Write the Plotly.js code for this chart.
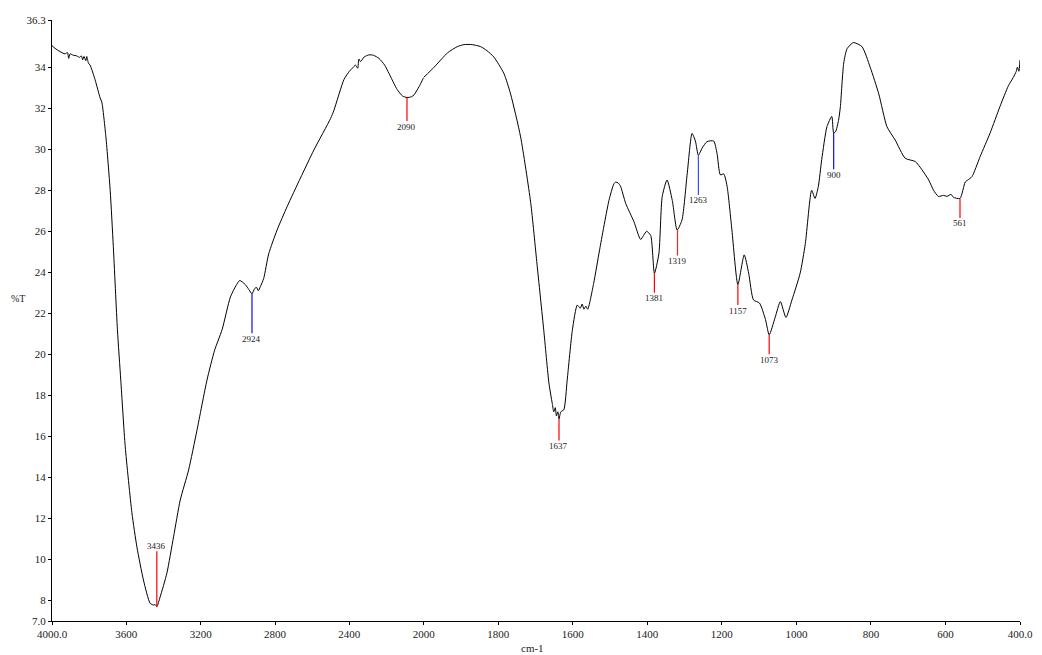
<!DOCTYPE html>
<html>
<head>
<meta charset="utf-8">
<script src="https://cdn.plot.ly/plotly-3.0.1.min.js"></script>
<style>html,body{margin:0;padding:0;background:#fff;}#chart{width:1042px;height:655px;}</style>
</head>
<body>
<div id="chart"></div>
<script>
// Spectrum (wavenumber, cm-1) and transmittance (%T)
const wavenumber = [4000,3984,3957,3930,3917,3910,3903,3885,3867,3853,3842,3835,3828,3818,3813,3804,3795,3768,3741,3732,3710,3687,3670,3648,3630,3606,3570,3543,3508,3472,3454,3445,3436,3418,3382,3346,3310,3265,3220,3166,3125,3085,3040,3010,2990,2960,2940,2924,2910,2900,2890,2879,2861,2834,2789,2735,2663,2591,2501,2483,2429,2400,2384,2367,2355,2349,2340,2320,2295,2270,2241,2210,2187,2160,2142,2115,2090,2065,2052,2025,2000,1972,1936,1910,1892,1870,1847,1830,1812,1785,1767,1740,1713,1696,1678,1664,1655,1651,1647,1644,1640,1637,1632,1624,1615,1601,1588,1580,1575,1570,1565,1560,1544,1528,1503,1490,1485,1478,1472,1458,1436,1418,1410,1402,1391,1381,1369,1360,1347,1333,1320,1307,1293,1280,1271,1263,1253,1240,1222,1213,1204,1195,1186,1173,1157,1140,1128,1115,1099,1083,1073,1057,1043,1028,1012,990,976,959,950,941,932,918,905,900,895,887,882,873,864,847,824,802,779,757,735,708,681,663,645,632,619,605,596,585,579,561,547,540,529,507,480,454,431,418,410,407,403,400];
const transmittance = [35.05,34.92,34.76,34.65,34.71,34.43,34.65,34.58,34.55,34.48,34.55,34.36,34.52,34.32,34.52,34.2,34.1,33.38,32.5,32.3,30.6,28.0,25.25,21.2,18.75,15.5,12.27,10.6,9.0,7.86,7.78,7.8,7.7,8.18,9.33,11.1,12.9,14.36,16.3,18.75,20.2,21.2,22.8,23.35,23.6,23.4,23.15,22.95,23.2,23.27,23.1,23.3,23.7,24.9,26.06,27.2,28.6,29.96,31.5,31.9,33.4,33.8,33.95,34.1,33.95,34.4,34.27,34.5,34.6,34.58,34.43,34.1,33.7,33.2,32.9,32.6,32.52,32.56,32.65,33.05,33.5,34.0,34.7,35.0,35.1,35.1,35.0,34.8,34.5,33.7,32.7,30.6,27.4,24.4,21.2,18.6,17.6,17.2,17.4,17.0,17.2,16.85,17.2,17.3,18.75,21.2,22.4,22.25,22.45,22.2,22.35,22.2,23.46,25.1,27.5,28.3,28.4,28.35,28.2,27.36,26.47,25.6,25.8,26.0,25.8,23.95,24.9,27.7,28.5,27.5,26.06,26.55,28.8,30.77,30.4,29.7,30.05,30.37,30.4,29.8,28.75,28.8,28.2,26.06,23.4,24.85,23.95,22.65,22.5,21.7,20.95,21.8,22.57,21.8,22.65,23.95,25.4,28.0,27.6,28.2,29.5,31.1,31.6,30.8,30.85,31.4,32.07,34.2,34.9,35.2,35.0,34.0,32.7,31.1,30.45,29.56,29.4,29.0,28.5,28.0,27.7,27.75,27.7,27.8,27.66,27.6,28.4,28.5,28.66,29.64,30.8,32.07,33.1,33.5,33.8,34.0,33.8,34.35];

// Picked peaks
const peakWavenumber = [3436,2924,2090,1637,1381,1319,1263,1157,1073,900,561];
const peakT = [7.7,22.95,32.52,16.85,23.95,26.06,29.7,23.4,20.95,30.8,27.6];
const peakLabels = ['3436','2924','2090','1637','1381','1319','1263','1157','1073','900','561'];

// Axis ticks
const xTicksHigh = [4000,3600,3200,2800,2400,2000];
const xTickTextHigh = ['4000.0','3600','3200','2800','2400','2000'];
const xTicksLow = [1800,1600,1400,1200,1000,800,600,400];
const xTickTextLow = ['1800','1600','1400','1200','1000','800','600','400.0'];
const yTicks = [7,8,10,12,14,16,18,20,22,24,26,28,30,32,34,36.3];
const yTickText = ['7.0','8','10','12','14','16','18','20','22','24','26','28','30','32','34','36.3'];

// Styles for peak markers (pixel offsets and colours)
const peakMarkerStyle = {
  '3436': {len: -55, color: '#ff0000'},
  '2924': {len: 37, color: '#1010e0'},
  '2090': {len: 21, color: '#ff0000'},
  '1637': {len: 19, color: '#ff0000'},
  '1381': {len: 17, color: '#ff0000'},
  '1319': {len: 23, color: '#ff2020'},
  '1263': {len: 37, color: '#3050ff'},
  '1157': {len: 18, color: '#ff0000'},
  '1073': {len: 17, color: '#ff0000'},
  '900':  {len: 34, color: '#1010e0'},
  '561':  {len: 17, color: '#ff0000'}
};

const SPLIT = 2000;
const hx = [], hy = [], lx = [], ly = [];
wavenumber.forEach((w, i) => {
  if (w >= SPLIT) { hx.push(w); hy.push(transmittance[i]); }
  if (w <= SPLIT) { lx.push(w); ly.push(transmittance[i]); }
});

const lineStyle = {color: '#000', width: 1, shape: 'spline', smoothing: 0.6};
const traces = [
  {x: hx, y: hy, xaxis: 'x', yaxis: 'y', type: 'scatter', mode: 'lines', line: lineStyle, hoverinfo: 'x+y'},
  {x: lx, y: ly, xaxis: 'x2', yaxis: 'y', type: 'scatter', mode: 'lines', line: lineStyle, hoverinfo: 'x+y'}
];

const serif = 'Liberation Serif, Times New Roman, serif';
const annotations = peakWavenumber.map((w, i) => {
  const st = peakMarkerStyle[peakLabels[i]];
  const off = st.len > 0 ? st.len + 8 : st.len - 6;
  return {
    x: w, y: peakT[i], xref: w > SPLIT ? 'x' : 'x2', yref: 'y',
    text: peakLabels[i], showarrow: true, arrowhead: 0, arrowwidth: 1.2,
    arrowcolor: st.color, ax: 0, ay: off, standoff: 0, startstandoff: 0,
    font: {family: serif, size: 9, color: '#222'}, borderpad: 0
  };
});
annotations.push({
  xref: 'paper', yref: 'paper', x: -0.035, y: 0.537, text: '%T', showarrow: false,
  xanchor: 'center', yanchor: 'middle', font: {family: serif, size: 10, color: '#222'}
});
annotations.push({
  xref: 'paper', yref: 'paper', x: 0.496, y: -0.045, text: 'cm-1', showarrow: false,
  xanchor: 'center', yanchor: 'middle', font: {family: serif, size: 11, color: '#222'}
});

const axisCommon = {
  showgrid: false, zeroline: false, showline: true, linecolor: '#000', linewidth: 1,
  ticks: 'outside', ticklen: 3, tickcolor: '#000', tickwidth: 1,
  tickfont: {family: serif, size: 11, color: '#222'}, tickmode: 'array', fixedrange: true
};

const DOMAIN_SPLIT = 0.384;
const layout = {
  width: 1042, height: 655,
  margin: {l: 52, r: 22, t: 20, b: 34},
  paper_bgcolor: '#fff', plot_bgcolor: '#fff',
  showlegend: false,
  xaxis: Object.assign({}, axisCommon, {domain: [0, DOMAIN_SPLIT], range: [4000, SPLIT], tickvals: xTicksHigh, ticktext: xTickTextHigh, anchor: 'y'}),
  xaxis2: Object.assign({}, axisCommon, {domain: [DOMAIN_SPLIT, 1], range: [SPLIT, 400], tickvals: xTicksLow, ticktext: xTickTextLow, anchor: 'y'}),
  yaxis: Object.assign({}, axisCommon, {range: [7, 36.3], tickvals: yTicks, ticktext: yTickText, anchor: 'x'}),
  annotations: annotations
};

Plotly.newPlot('chart', traces, layout, {displayModeBar: false, staticPlot: true});
</script>
</body>
</html>
